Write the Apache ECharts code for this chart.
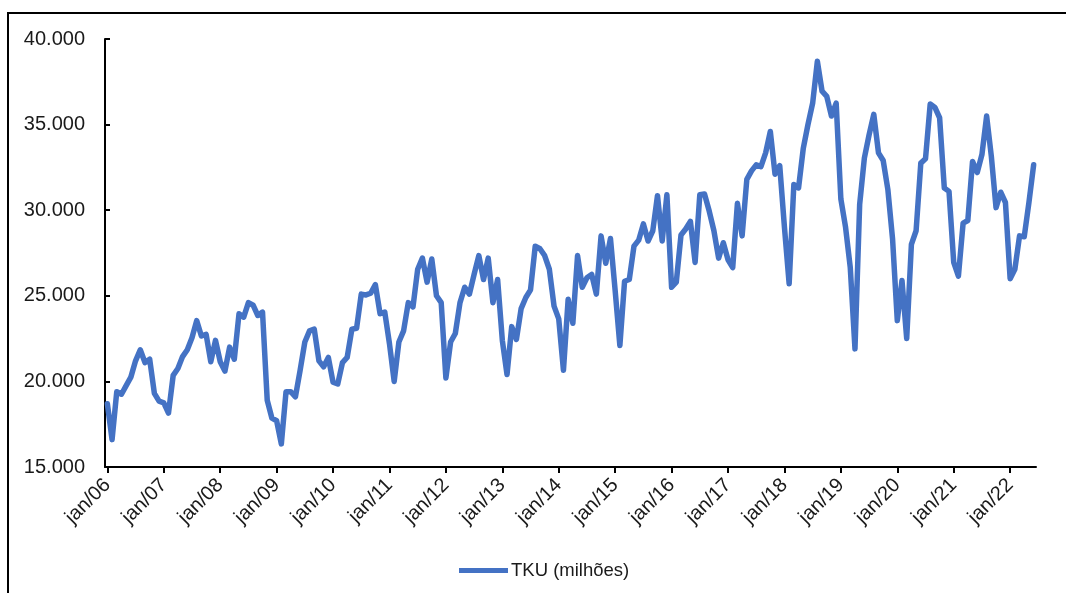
<!DOCTYPE html>
<html>
<head>
<meta charset="utf-8">
<title>TKU (milhões)</title>
<script src="https://cdn.jsdelivr.net/npm/echarts@6/dist/echarts.min.js"></script>
<style>
  html, body { margin: 0; padding: 0; background: #ffffff; }
  #chart { width: 1066px; height: 593px; }
</style>
</head>
<body>
<div id="chart"></div>
<script>
// Monthly series: jan/06 .. jun/22
const monthNames = ['jan', 'fev', 'mar', 'abr', 'mai', 'jun', 'jul', 'ago', 'set', 'out', 'nov', 'dez'];
const firstYear = 2006;
const seriesName = 'TKU (milhões)';

const tku = [
  18700, 16600, 19400, 19250, 19750, 20250, 21200, 21850, 21100, 21300, 19300, 18850,
  18750, 18150, 20350, 20750, 21450, 21850, 22550, 23550, 22650, 22750, 21150, 22400,
  21150, 20600, 22000, 21300, 23950, 23750, 24600, 24450, 23850, 24050, 18900, 17850,
  17700, 16350, 19400, 19400, 19100, 20650, 22300, 22950, 23050, 21200, 20850, 21400,
  19950, 19850, 21100, 21400, 23050, 23100, 25100, 25050, 25150, 25650, 23950, 24050,
  22200, 20000, 22300, 22950, 24600, 24350, 26550, 27200, 25800, 27150, 25000, 24600,
  20200, 22300, 22800, 24600, 25500, 25100, 26250, 27350, 25950, 27200, 24600, 25950,
  22400, 20400, 23200, 22450, 24250, 24900, 25350, 27900, 27750, 27350, 26550, 24400,
  23650, 20650, 24800, 23400, 27350, 25500, 26050, 26250, 25100, 28500, 26900, 28350,
  25300, 22100, 25850, 25950, 27900, 28250, 29200, 28200, 28800, 30850, 28200, 30900,
  25500, 25800, 28550, 28900, 29350, 26950, 30900, 30950, 29950, 28800, 27200, 28100,
  27100, 26650, 30400, 28500, 31800, 32300, 32650, 32550, 33350, 34600, 32100, 32600,
  29000, 25700, 31500, 31300, 33600, 35000, 36250, 38700, 36950, 36650, 35500, 36250,
  30650, 29000, 26650, 21900, 30350, 33050, 34400, 35600, 33350, 32900, 31200, 28300,
  23550, 25900, 22500, 28000, 28800, 32750, 33000, 36200, 36000, 35400, 31300, 31100,
  26950, 26150, 29250, 29400, 32850, 32200, 33250, 35500, 33150, 30150, 31050, 30450,
  26000, 26550, 28500, 28450, 30450, 32650
];

// Y axis range
const yMin = 15000;
const yMax = 40000;
const yStep = 5000;

// Category labels such as "jan/06"
const categories = tku.map((_, i) => {
  const year = firstYear + Math.floor(i / 12);
  return monthNames[i % 12] + '/' + String(year % 100).padStart(2, '0');
});

const isJanuary = (index) => index % 12 === 0;
const thousands = (v) => String(v).replace(/\B(?=(\d{3})+(?!\d))/g, '.');

const textColor = '#1a1a1a';
const fontFamily = 'Liberation Sans, Arial, sans-serif';

const chart = echarts.init(document.getElementById('chart'), null, { renderer: 'canvas' });

chart.setOption({
  animation: false,
  backgroundColor: '#ffffff',
  graphic: [{
    type: 'rect',
    silent: true,
    shape: { x: 8, y: 13, width: 1200, height: 700 },
    style: { fill: 'none', stroke: '#000000', lineWidth: 2 }
  }],
  grid: { left: 105, right: 30, top: 39, bottom: 126, containLabel: false },
  legend: {
    data: [seriesName],
    left: 454,
    top: 556,
    icon: 'rect',
    itemWidth: 49,
    itemHeight: 5,
    itemGap: 10,
    textStyle: { color: textColor, fontSize: 18.5, fontFamily: fontFamily, padding: [0, 0, 0, -2] }
  },
  xAxis: {
    type: 'category',
    data: categories,
    boundaryGap: true,
    axisLine: { show: true, lineStyle: { color: '#000000', width: 2 } },
    axisTick: { show: true, interval: isJanuary, alignWithLabel: true, length: 6, inside: false, lineStyle: { color: '#000000', width: 2 } },
    axisLabel: {
      interval: isJanuary,
      rotate: 45,
      margin: 15,
      color: textColor,
      fontSize: 20,
      fontFamily: fontFamily
    },
    splitLine: { show: false }
  },
  yAxis: {
    type: 'value',
    min: yMin,
    max: yMax,
    interval: yStep,
    axisLine: { show: true, lineStyle: { color: '#000000', width: 2 } },
    axisTick: { show: true, inside: true, length: 5, lineStyle: { color: '#000000', width: 2 } },
    axisLabel: {
      margin: 20,
      color: textColor,
      fontSize: 20,
      fontFamily: fontFamily,
      formatter: thousands
    },
    splitLine: { show: false }
  },
  series: [{
    name: seriesName,
    type: 'line',
    data: tku,
    symbol: 'none',
    smooth: false,
    lineStyle: { color: '#4472C4', width: 5.5, join: 'round', cap: 'round' },
    itemStyle: { color: '#4472C4' }
  }]
});
</script>
</body>
</html>
